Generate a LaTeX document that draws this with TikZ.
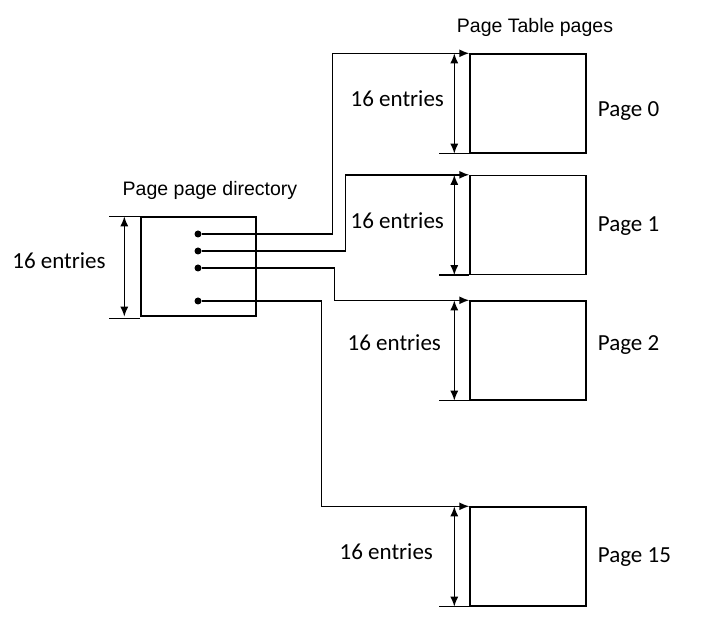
\documentclass[tikz,border=0pt]{standalone}
\usepackage{fontspec}
\setmainfont{Liberation Sans}
\newfontfamily\entfont{Carlito}
\usetikzlibrary{positioning,arrows.meta,calc}

\tikzset{
  tbl/.style={draw, line width=1.4pt, minimum width=116pt, minimum height=99pt, inner sep=0pt},
  ptr/.style={circle, fill, inner sep=0pt, minimum size=7pt},
  conn/.style={line width=1.5pt, -{Latex[length=10pt,width=8pt]}},
  dim/.style={line width=1.5pt, {Latex[length=10pt,width=8pt]}-{Latex[length=10pt,width=8pt]}},
  tick/.style={line width=1.5pt},
  cnt/.style={font=\entfont\fontsize{23}{27}\selectfont, inner sep=0pt},
  ttl/.style={font=\fontsize{19.5}{23}\selectfont, inner sep=0pt}
}

\begin{document}
\begin{tikzpicture}[x=1pt,y=-1pt,node distance=2cm,on grid]
  \useasboundingbox (0,0) rectangle (710,644);

  % directory
  \node[tbl, minimum width=115pt] (dir) at (198.5,266.5) {};
  \node[ttl] (dirttl) at (210,190) {Page page directory};
  \node[ptr] (d0) at (198,234) {};
  \node[ptr] (d1) at (198,251) {};
  \node[ptr] (d2) at (198,268) {};
  \node[ptr] (d15) at (198,301) {};

  % page table pages
  \node[tbl] (pt0) at (528,103.5) {};
  \node[tbl] (pt1) [below=121.5pt of pt0] {};
  \node[tbl] (pt2) [below=125.5pt of pt1] {};
  \node[tbl] (pt15) [below=206pt of pt2] {};
  \node[ttl] (ptttl) at (535,27) {Page Table pages};

  \node[cnt, anchor=west] (n0) at ($(pt0.east)+(11,7.5)$) {Page 0};
  \node[cnt, anchor=west] (n1) at ($(pt1.east)+(11,1)$) {Page 1};
  \node[cnt, anchor=west] (n2) at ($(pt2.east)+(11,-5.5)$) {Page 2};
  \node[cnt, anchor=west] (n15) at ($(pt15.east)+(11,0.5)$) {Page 15};

  % entry counts
  \draw[tick] ([xshift=-31pt]dir.north west) -- (dir.north west);
  \draw[tick] ([xshift=-31pt,yshift=-2pt]dir.south west) -- ([yshift=-2pt]dir.south west);
  \draw[dim] ([xshift=-16pt]dir.north west) -- ([xshift=-16pt]dir.south west);
  \node[cnt] (e) at (59,261) {16 entries};

  \foreach \p/\dx/\dy in {pt0/72/4.5,pt1/72/4,pt2/75/7.5,pt15/83/4.5}{
    \draw[dim] ([xshift=-15pt]\p.north west) -- ([xshift=-15pt]\p.south west);
    \draw[tick] ([xshift=-30pt]\p.south west) -- (\p.south west);
    \node[cnt] (e\p) at ($(\p.west)+(-\dx,-\dy)$) {16 entries};
  }

  % pointers
  \draw[conn] (d0) -| ([xshift=-137pt]pt0.north west) -- (pt0.north west);
  \draw[conn] (d1) -| ([xshift=-124pt]pt1.north west) -- (pt1.north west);
  \draw[conn] (d2) -| ([xshift=-135pt]pt2.north west) -- (pt2.north west);
  \draw[conn] (d15) -| ([xshift=-148pt]pt15.north west) -- (pt15.north west);
\end{tikzpicture}
\end{document}
